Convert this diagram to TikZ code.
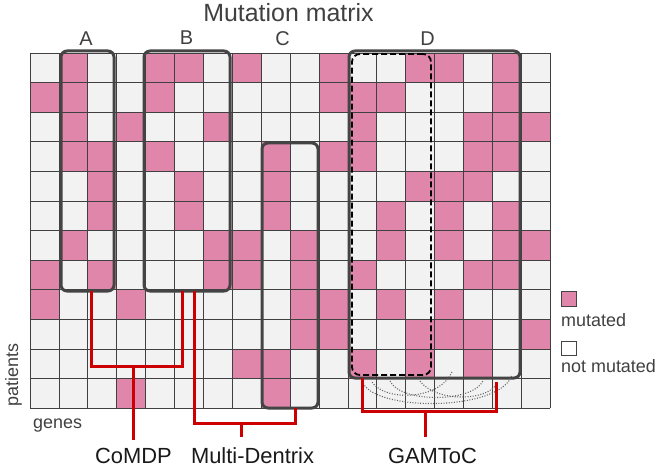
\documentclass[tikz,border=0pt]{standalone}
\usepackage{fontspec}
\setmainfont{Liberation Sans}
\definecolor{pinkc}{HTML}{E086AB}
\definecolor{cellc}{HTML}{F2F2F2}
\definecolor{boxc}{HTML}{444444}
\definecolor{redc}{HTML}{CC0000}
\definecolor{txtc}{HTML}{404040}
\begin{document}
\begin{tikzpicture}[x=1bp,y=-1bp,
  gl/.style={draw=black!75,line width=0.8bp},
  grp/.style={draw=boxc,line width=3bp,rounded corners=6bp,inner sep=0pt,outer sep=0pt,rectangle},
  subgrp/.style={draw=black,line width=1.8bp,dash pattern=on 6bp off 3bp,rounded corners=8bp,inner sep=0pt,outer sep=0pt,rectangle},
  conn/.style={draw=redc,line width=3bp},
  dotarc/.style={draw=black!60,line width=1.1bp,dash pattern=on 1bp off 1.6bp},
  lab/.style={anchor=base,inner sep=0pt,text=txtc,font=\fontsize{20}{24}\selectfont},
  meth/.style={anchor=base,inner sep=0pt,text=black!90,font=\fontsize{22}{26}\selectfont},
  small/.style={inner sep=0pt,text=txtc,font=\fontsize{18}{22}\selectfont},
  legbox/.style={draw=boxc,line width=1bp,inner sep=0pt,minimum width=15bp,minimum height=14bp}
]
\useasboundingbox (0,0) rectangle (664,469);
\fill[white] (0,0) rectangle (664,469);
% cells
\fill[cellc] (30,53) rectangle (550.2,408.2);
\foreach \r/\cols in {0/{1,4,5,7,10,13,14,16},1/{0,1,4,10,11,12,16},2/{1,3,6,11,15,16,17},3/{1,2,4,8,10,11,15,16},4/{2,5,8,13,14,15},5/{2,5,8,12,14,16},6/{1,6,7,9,12,14,16,17},7/{0,2,6,7,9,11,15,16},8/{0,3,9,10,12,14},9/{9,10,13,14,15,17},10/{7,8,11,13,15},11/{3,8}}
  {\foreach \c in \cols {\fill[pinkc] (30+\c*28.9,53+\r*29.6) rectangle ++(28.9,29.6);}}
\foreach \c in {0,...,18} {\draw[gl] (30+\c*28.9,53) -- (30+\c*28.9,408.2);}
\foreach \r in {0,...,12} {\draw[gl] (30,53+\r*29.6) -- (550.2,53+\r*29.6);}
% title and labels
\node[anchor=base,inner sep=0pt,text=txtc,font=\fontsize{25}{30}\selectfont] (title) at (288.5,22) {Mutation matrix};
\node[lab] (lA) at (86,46) {A};
\node[lab] (lB) at (186.5,45) {B};
\node[lab] (lC) at (282.5,46) {C};
\node[lab] (lD) at (427.5,46) {D};
\node[small,anchor=base,rotate=90] (pat) at (18,375) {patients};
\node[small,anchor=base west] (gen) at (33,428) {genes};
% group boxes
\node[grp,minimum width=53bp,minimum height=240bp] (A) at (87.5,171) {};
\node[grp,minimum width=86bp,minimum height=240bp] (B) at (187,171) {};
\node[grp,minimum width=56bp,minimum height=265bp] (C) at (290,275.5) {};
\node[grp,minimum width=171bp,minimum height=327bp] (D) at (434.5,214.5) {};
\node[subgrp,minimum width=79bp,minimum height=321bp] (Ds) at (391.5,214.5) {};
% dotted arcs under D
\draw[dotarc] (362,381) .. controls (372,412) and (500,412) .. (512,375);
\draw[dotarc] (390,381) .. controls (400,403) and (472,403) .. (483,381);
\draw[dotarc] (420,381) .. controls (435,402) and (488,402) .. (497,383);
\draw[dotarc] (452,372) .. controls (440,400) and (385,402) .. (372,382);
% method labels
\node[meth] (m1) at (133.5,463) {CoMDP};
\node[meth] (m2) at (252.5,463) {Multi-Dentrix};
\node[meth] (m3) at (432.5,463) {GAMToC};
% connectors
\coordinate (j1a) at (91,366);
\coordinate (j1b) at (182,366);
\coordinate (d1) at (133.5,440);
\draw[conn] (j1a |- A.south) -- (j1a) -- (j1b) -- (j1b |- B.south);
\draw[conn] (d1 |- j1a) -- (d1);
\coordinate (j2a) at (194,423);
\coordinate (j2b) at (295,423);
\coordinate (d2) at (241,437);
\draw[conn] (j2a |- B.south) -- (j2a) -- (j2b) -- (j2b |- C.south);
\draw[conn] (d2 |- j2a) -- (d2);
\coordinate (j3a) at (362,411.7);
\coordinate (j3b) at (496.7,411.7);
\coordinate (t3) at (496.7,382);
\coordinate (d3) at (425,437);
\draw[conn] (j3a |- D.south) -- (j3a) -- (j3b) -- (t3);
\draw[conn] (d3 |- j3a) -- (d3);
% legend
\node[legbox,fill=pinkc] (lg1) at (568.5,299) {};
\node[small,anchor=base west] (lt1) at (561,327) {mutated};
\node[legbox,fill=white] (lg2) at (568.5,348) {};
\node[small,anchor=base west] (lt2) at (561,372) {not mutated};
\end{tikzpicture}
\end{document}
